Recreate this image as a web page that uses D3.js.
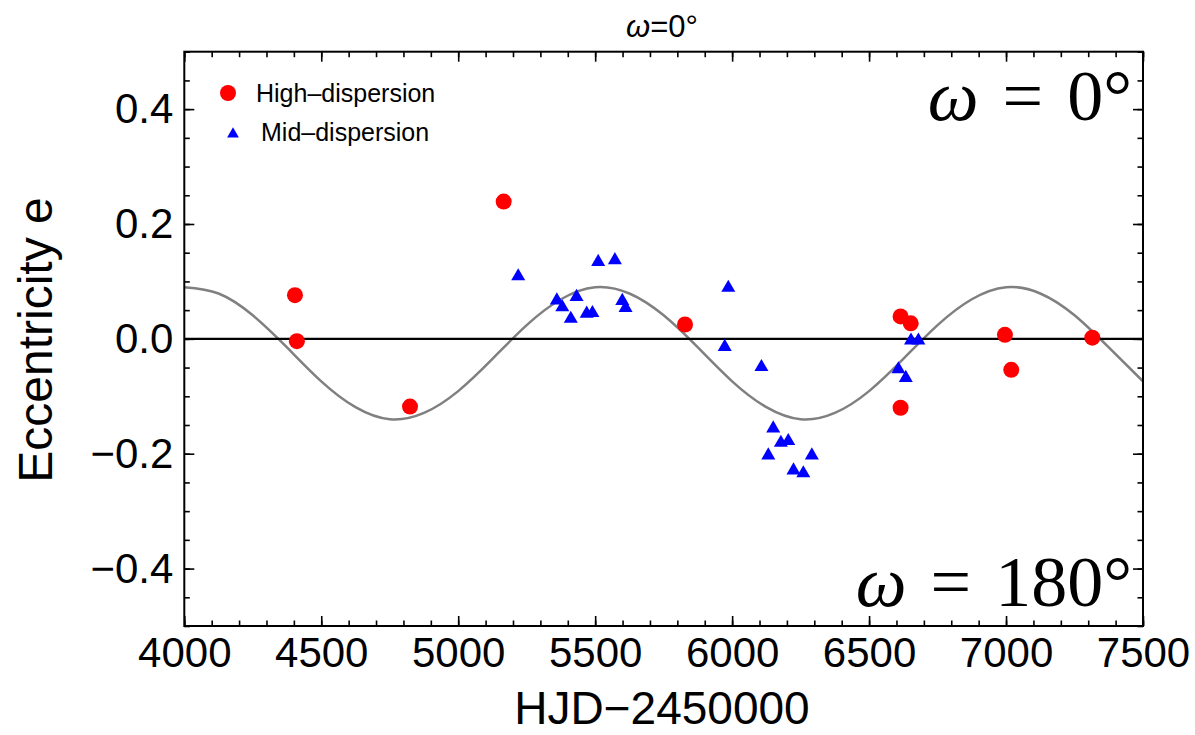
<!DOCTYPE html>
<html>
<head>
<meta charset="utf-8">
<script src="https://cdn.jsdelivr.net/npm/d3@7"></script>
<style>
  body { margin: 0; background: #fff; }
  text { font-family: "Liberation Sans", Arial, Helvetica, sans-serif; }
</style>
</head>
<body>
<svg id="chart"></svg>
<script>
// High-dispersion measurements (red circles)
const highJD  = [4404, 4411, 4824, 5166, 5828, 6615, 6652, 6615, 6996, 7019, 7315];
const highEcc = [0.076, -0.004, -0.118, 0.239, 0.025, 0.039, 0.027, -0.120, 0.007, -0.054, 0.002];

// Mid-dispersion measurements (blue triangles)
const midJD  = [5219, 5511, 5572, 5360, 5380, 5432, 5411, 5469, 5490, 5599, 5611,
                5986, 5973, 6107, 6150, 6178, 6205, 6132, 6291, 6224, 6260, 6653, 6680, 6607, 6634];
const midEcc = [0.109, 0.134, 0.137, 0.067, 0.055, 0.073, 0.035, 0.044, 0.045, 0.066, 0.054,
                0.089, -0.014, -0.049, -0.156, -0.181, -0.178, -0.203, -0.203, -0.229, -0.234, -0.003, -0.003, -0.053, -0.068];

const curveJD  = [4000, 4125, 4250, 4375, 4500, 4625, 4750, 4875, 5000, 5125, 5250, 5375,
                  5500, 5625, 5750, 5875, 6000, 6125, 6250, 6375, 6500, 6625, 6750, 6875,
                  7000, 7125, 7250, 7375, 7500];
const curveEcc = [0.090, 0.079, 0.041, -0.015, -0.074, -0.119, -0.140, -0.129, -0.091, -0.035, 0.024, 0.069,
                  0.090, 0.079, 0.041, -0.015, -0.074, -0.119, -0.140, -0.129, -0.091, -0.035, 0.024, 0.069,
                  0.090, 0.079, 0.041, -0.015, -0.074];

const xTicks = [4000, 4500, 5000, 5500, 6000, 6500, 7000, 7500];
const yTicks = [-0.4, -0.2, 0.0, 0.2, 0.4];

const W = 1195, H = 735;
const margin = { top: 51.7, right: 52, bottom: 109, left: 184.3 };
const width = W - margin.left - margin.right;
const height = H - margin.top - margin.bottom;

const svg = d3.select('#chart').attr('width', W).attr('height', H);
const g = svg.append('g').attr('transform', `translate(${margin.left}, ${margin.top})`);

const x = d3.scaleLinear().domain([4000, 7500]).range([0, width]);
const y = d3.scaleLinear().domain([-0.5, 0.5]).range([height, 0]);

const fmtY = d => d === 0 ? '0.0' : d3.format('.1f')(d).replace('-', '\u2212');

// minor ticks (all four sides)
const xMinor = d3.range(4000, 7501, 100);
const yMinor = d3.range(-0.5, 0.501, 0.05);

g.append('g').attr('transform', `translate(0, ${height})`)
  .call(d3.axisBottom(x).tickValues(xMinor).tickSize(-5.5).tickFormat(''));
g.append('g')
  .call(d3.axisTop(x).tickValues(xMinor).tickSize(-5.5).tickFormat(''));
g.append('g')
  .call(d3.axisLeft(y).tickValues(yMinor).tickSize(-5.5).tickFormat(''));
g.append('g').attr('transform', `translate(${width}, 0)`)
  .call(d3.axisRight(y).tickValues(yMinor).tickSize(-5.5).tickFormat(''));

// major ticks
g.append('g').attr('class', 'xlab').attr('transform', `translate(0, ${height})`)
  .call(d3.axisBottom(x).tickValues(xTicks).tickSize(-10).tickPadding(11).tickFormat(d3.format('d')));
g.append('g')
  .call(d3.axisTop(x).tickValues(xTicks).tickSize(-10).tickFormat(''));
g.append('g').attr('class', 'ylab')
  .call(d3.axisLeft(y).tickValues(yTicks).tickSize(-10).tickPadding(11).tickFormat(fmtY));
g.append('g').attr('transform', `translate(${width}, 0)`)
  .call(d3.axisRight(y).tickValues(yTicks).tickSize(-10).tickFormat(''));

g.selectAll('.domain').remove();
g.selectAll('.tick line').attr('stroke', '#000').attr('stroke-width', 1.6);
g.selectAll('.xlab text').attr('font-size', 42).attr('fill', '#000')
  .style('font-family', '"Liberation Sans", Arial, sans-serif');
g.selectAll('.ylab text').attr('font-size', 42).attr('fill', '#000')
  .style('font-family', '"Liberation Sans", Arial, sans-serif');

// clip for the curve
svg.append('defs').append('clipPath').attr('id', 'clip')
  .append('rect').attr('width', width).attr('height', height);

const curveData = curveJD.map((t, i) => ({ t, e: curveEcc[i] }));
const line = d3.line()
  .x(d => x(d.t))
  .y(d => y(d.e))
  .curve(d3.curveNatural);

g.append('path')
  .datum(curveData)
  .attr('clip-path', 'url(#clip)')
  .attr('fill', 'none')
  .attr('stroke', '#808080')
  .attr('stroke-width', 2.5)
  .attr('d', line);

// zero line
g.append('line')
  .attr('x1', 0).attr('x2', width)
  .attr('y1', y(0)).attr('y2', y(0))
  .attr('stroke', '#000').attr('stroke-width', 2.4);

// frame
g.append('rect')
  .attr('width', width).attr('height', height)
  .attr('fill', 'none').attr('stroke', '#000').attr('stroke-width', 2);

// mid-dispersion triangles
const tri = d3.symbol().type(d3.symbolTriangle).size(85);
g.selectAll('.mid')
  .data(midJD.map((t, i) => ({ t, e: midEcc[i] })))
  .join('path')
  .attr('class', 'mid')
  .attr('transform', d => `translate(${x(d.t)}, ${y(d.e)})`)
  .attr('d', tri)
  .attr('fill', '#0000ff');

// high-dispersion circles
g.selectAll('.high')
  .data(highJD.map((t, i) => ({ t, e: highEcc[i] })))
  .join('circle')
  .attr('class', 'high')
  .attr('cx', d => x(d.t))
  .attr('cy', d => y(d.e))
  .attr('r', 8)
  .attr('fill', '#ff0000');

// legend
svg.append('circle').attr('cx', 228).attr('cy', 93).attr('r', 8).attr('fill', '#ff0000');
svg.append('text').attr('x', 256).attr('y', 102).attr('font-size', 25)
  .text('High\u2013dispersion');
svg.append('path')
  .attr('transform', 'translate(233, 134)')
  .attr('d', d3.symbol().type(d3.symbolTriangle).size(60))
  .attr('fill', '#0000ff');
svg.append('text').attr('x', 261).attr('y', 141).attr('font-size', 25)
  .text('Mid\u2013dispersion');

// omega annotations
function omegaLabel(yPos, deg) {
  const t = svg.append('text')
    .attr('x', 1132).attr('y', yPos)
    .attr('text-anchor', 'end')
    .attr('font-size', 72)
    .style('font-family', '"Liberation Serif", "Times New Roman", serif');
  t.append('tspan').attr('font-style', 'italic').text('\u03c9');
  t.append('tspan').text('\u2004=\u2004' + deg + '\u00b0');
}
omegaLabel(120, '0');
omegaLabel(606, '180');

// title
const title = svg.append('text')
  .attr('x', 662).attr('y', 37)
  .attr('text-anchor', 'middle')
  .attr('font-size', 31);
title.append('tspan').attr('font-style', 'italic').text('\u03c9');
title.append('tspan').text('=0\u00b0');

// axis titles
svg.append('text')
  .attr('x', 662).attr('y', 724)
  .attr('text-anchor', 'middle')
  .attr('font-size', 46)
  .text('HJD\u22122450000');

svg.append('text')
  .attr('transform', 'translate(52, 340) rotate(-90)')
  .attr('text-anchor', 'middle')
  .attr('font-size', 48)
  .text('Eccentricity e');
</script>
</body>
</html>
